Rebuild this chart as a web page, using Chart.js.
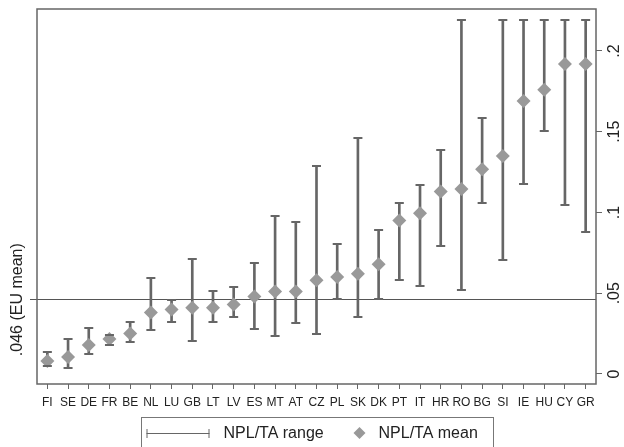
<!DOCTYPE html>
<html>
<head>
<meta charset="utf-8">
<script src="https://cdn.jsdelivr.net/npm/chart.js@4.4.1/dist/chart.umd.min.js"></script>
<style>
  html, body { margin: 0; padding: 0; background: #fff; }
  #wrap { width: 624px; height: 447px; }
</style>
</head>
<body>
<div id="wrap"><canvas id="chartCanvas"></canvas></div>
<script>
const countries = ['FI','SE','DE','FR','BE','NL','LU','GB','LT','LV','ES','MT','AT','CZ',
                   'PL','SK','DK','PT','IT','HR','RO','BG','SI','IE','HU','CY','GR'];
const nplMean = [0.008, 0.0105, 0.018, 0.0217, 0.025, 0.038, 0.040, 0.041, 0.041, 0.043, 0.048, 0.051, 0.051, 0.058,
                 0.060, 0.062, 0.068, 0.095, 0.0995, 0.113, 0.1145, 0.1267, 0.135, 0.169, 0.176, 0.192, 0.192];
const nplLow  = [0.005, 0.0035, 0.0122, 0.018, 0.0196, 0.027, 0.0324, 0.0204, 0.032, 0.0355, 0.0276, 0.0237, 0.0318, 0.025,
                 0.0466, 0.0355, 0.0466, 0.058, 0.0545, 0.0793, 0.052, 0.1057, 0.0706, 0.1176, 0.1507, 0.1046, 0.0881];
const nplHigh = [0.0134, 0.0215, 0.0287, 0.024, 0.0322, 0.0592, 0.0458, 0.0712, 0.0516, 0.054, 0.069, 0.0978, 0.0943, 0.129,
                 0.0803, 0.146, 0.0892, 0.106, 0.117, 0.139, 0.219, 0.1587, 0.219, 0.219, 0.219, 0.219, 0.219];
const euMean = 0.046;
const euMeanLabel = '.046 (EU mean)';
const yTicks = [0, 0.05, 0.1, 0.15, 0.2];
const yTickLabels = ['0', '.05', '.1', '.15', '.2'];

const FONT = '"Liberation Sans", Arial, sans-serif';
const barColor = '#666666';
const diamondColor = '#999999';
const yMin = -0.0062, yMax = 0.226;

// caps, frame, rotated labels and the boxed legend
const decor = {
  id: 'decor',
  afterDatasetsDraw(chart) {
    const ctx = chart.ctx, x = chart.scales.x, y = chart.scales.y;
    ctx.save();
    ctx.strokeStyle = barColor;
    ctx.lineWidth = 2;
    ctx.beginPath();
    countries.forEach((c, i) => {
      const px = x.getPixelForValue(i);
      [nplLow[i], nplHigh[i]].forEach(v => {
        const py = Math.round(y.getPixelForValue(v));
        ctx.moveTo(px - 4.5, py);
        ctx.lineTo(px + 4.5, py);
      });
    });
    ctx.stroke();
    ctx.restore();
  },
  afterDraw(chart) {
    const ctx = chart.ctx, a = chart.chartArea, y = chart.scales.y;
    ctx.save();
    // plot frame
    ctx.strokeStyle = '#666';
    ctx.lineWidth = 1.5;
    ctx.strokeRect(a.left, a.top, a.right - a.left, a.bottom - a.top);

    // right axis labels, reading bottom to top
    ctx.fillStyle = '#222';
    ctx.font = '16px ' + FONT;
    ctx.textAlign = 'center';
    ctx.textBaseline = 'middle';
    yTicks.forEach((v, i) => {
      ctx.save();
      ctx.translate(a.right + 19, y.getPixelForValue(v));
      ctx.rotate(-Math.PI / 2);
      ctx.fillText(yTickLabels[i], 0, 0);
      ctx.restore();
    });
    // left axis label
    ctx.save();
    ctx.translate(a.left - 19, chart.scales.yl.getPixelForValue(euMean));
    ctx.rotate(-Math.PI / 2);
    ctx.fillText(euMeanLabel, 0, 0);
    ctx.restore();

    // legend
    const cx = (a.left + a.right) / 2;
    const bx = cx - 176, by = a.bottom + 33;
    ctx.strokeStyle = '#777';
    ctx.lineWidth = 1;
    ctx.strokeRect(Math.round(bx) + 0.5, by + 0.5, 352, 40);
    const ly = by + 16;
    ctx.strokeStyle = barColor;
    ctx.beginPath();
    ctx.moveTo(bx + 6, ly + 0.5); ctx.lineTo(bx + 69, ly + 0.5);
    ctx.moveTo(bx + 6.5, ly - 4); ctx.lineTo(bx + 6.5, ly + 5);
    ctx.moveTo(bx + 68.5, ly - 4); ctx.lineTo(bx + 68.5, ly + 5);
    ctx.stroke();
    ctx.textAlign = 'left';
    ctx.fillStyle = '#222';
    ctx.fillText(chart.data.datasets[0].label, bx + 83, ly + 1);
    const dx = bx + 219, r = 6;
    ctx.fillStyle = diamondColor;
    ctx.beginPath();
    ctx.moveTo(dx, ly - r); ctx.lineTo(dx + r, ly); ctx.lineTo(dx, ly + r); ctx.lineTo(dx - r, ly);
    ctx.closePath();
    ctx.fill();
    ctx.fillStyle = '#222';
    ctx.fillText(chart.data.datasets[1].label, bx + 238, ly + 1);
    ctx.restore();
  }
};

const ctx = document.getElementById('chartCanvas').getContext('2d');
new Chart(ctx, {
  data: {
    labels: countries,
    datasets: [{
      type: 'bar',
      label: 'NPL/TA range',
      data: countries.map((c, i) => [nplLow[i], nplHigh[i]]),
      backgroundColor: barColor,
      barThickness: 2,
      yAxisID: 'y',
      order: 2
    }, {
      type: 'line',
      label: 'NPL/TA mean',
      data: nplMean,
      showLine: false,
      pointStyle: 'rectRot',
      pointRadius: 7,
      pointBackgroundColor: diamondColor,
      pointBorderWidth: 0,
      yAxisID: 'y',
      order: 1
    }]
  },
  options: {
    responsive: true,
    maintainAspectRatio: false,
    animation: false,
    layout: { padding: { top: 9, bottom: 35, left: 0, right: 0 } },
    plugins: {
      legend: { display: false },
      tooltip: { enabled: false }
    },
    scales: {
      x: {
        offset: true,
        grid: { drawOnChartArea: false, color: '#666', tickLength: 5, offset: false },
        border: { display: false },
        ticks: { color: '#222', font: { size: 12, family: FONT }, padding: 6, maxRotation: 0, autoSkip: false },
        afterFit(s) { s.height = 28; }
      },
      y: {
        position: 'right',
        min: yMin, max: yMax,
        afterBuildTicks(s) { s.ticks = yTicks.map(v => ({ value: v })); },
        grid: { drawOnChartArea: false, color: '#666', tickLength: 6 },
        border: { display: false },
        ticks: { display: false },
        afterFit(s) { s.width = 28; }
      },
      yl: {
        position: 'left',
        min: yMin, max: yMax,
        afterBuildTicks(s) { s.ticks = [{ value: euMean }]; },
        grid: { drawOnChartArea: true, color: '#555', lineWidth: 1, tickLength: 7 },
        border: { display: false },
        ticks: { display: false },
        afterFit(s) { s.width = 37; }
      }
    }
  },
  plugins: [decor]
});
</script>
</body>
</html>
